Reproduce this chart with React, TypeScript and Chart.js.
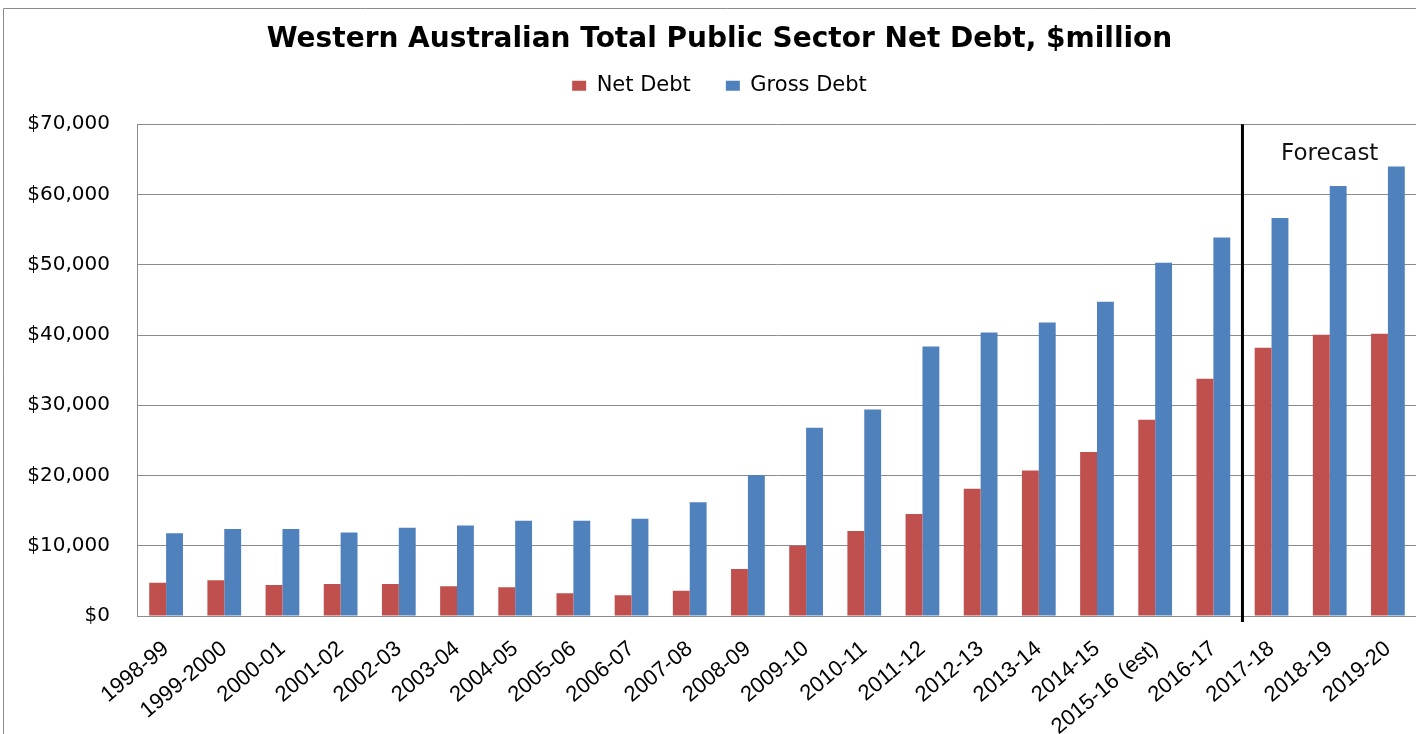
import { useEffect, useRef } from 'react';
import { Chart, registerables } from 'chart.js';

Chart.register(...registerables);

const categories = [
  '1998-99', '1999-2000', '2000-01', '2001-02', '2002-03', '2003-04', '2004-05',
  '2005-06', '2006-07', '2007-08', '2008-09', '2009-10', '2010-11', '2011-12',
  '2012-13', '2013-14', '2014-15', '2015-16 (est)', '2016-17', '2017-18', '2018-19', '2019-20',
];
const netDebt = [
  4740, 5080, 4410, 4550, 4550, 4220, 4080, 3230, 2950, 3600, 6690,
  10000, 12090, 14510, 18110, 20730, 23330, 27930, 33760, 38180, 40030, 40170,
];
const grossDebt = [
  11770, 12380, 12380, 11900, 12570, 12900, 13560, 13560, 13850, 16180, 20060,
  26790, 29400, 38370, 40360, 41780, 44720, 50300, 53870, 56670, 61220, 63980,
];
const yMin = 0;
const yMax = 70000;
const yStep = 10000;
const forecastStartIndex = 19;
const forecastLabel = 'Forecast';
const forecastLabelCategory = 20;
const forecastLabelValue = 65700;

const framePlugin = {
  id: 'frame',
  beforeDraw(chart: any) {
    const { ctx } = chart;
    ctx.save();
    ctx.strokeStyle = '#8c8c8c';
    ctx.lineWidth = 1;
    ctx.beginPath();
    ctx.moveTo(3.5, chart.height + 10);
    ctx.lineTo(3.5, 8.5);
    ctx.lineTo(chart.width + 10, 8.5);
    ctx.stroke();
    ctx.restore();
  },
};

const forecastPlugin = {
  id: 'forecast',
  afterDatasetsDraw(chart: any) {
    const { ctx, chartArea } = chart;
    const x = chart.scales.x;
    const y = chart.scales.y;
    const xl = (x.getPixelForValue(forecastStartIndex - 1) + x.getPixelForValue(forecastStartIndex)) / 2;
    ctx.save();
    ctx.strokeStyle = '#000';
    ctx.lineWidth = 3;
    ctx.beginPath();
    ctx.moveTo(xl, chartArea.top);
    ctx.lineTo(xl, chartArea.bottom + 6);
    ctx.stroke();
    ctx.fillStyle = '#111';
    ctx.font = '23px "DejaVu Sans"';
    ctx.textAlign = 'center';
    ctx.textBaseline = 'middle';
    ctx.fillText(forecastLabel, x.getPixelForValue(forecastLabelCategory), y.getPixelForValue(forecastLabelValue));
    ctx.restore();
  },
};

export default function App() {
  const ref = useRef<HTMLCanvasElement>(null);
  useEffect(() => {
    document.body.style.margin = '0';
    const chart = new Chart(ref.current as HTMLCanvasElement, {
      type: 'bar',
      data: {
        labels: categories,
        datasets: [
          { label: 'Net Debt', data: netDebt, backgroundColor: '#C0504D', borderWidth: 0 },
          { label: 'Gross Debt', data: grossDebt, backgroundColor: '#4F81BD', borderWidth: 0 },
        ],
      },
      options: {
        responsive: false,
        animation: false,
        layout: { padding: { left: 22, right: 33, top: 0, bottom: 0 } },
        datasets: { bar: { barPercentage: 1, categoryPercentage: 0.58 } },
        plugins: {
          title: {
            display: true,
            text: 'Western Australian Total Public Sector Net Debt, $million',
            color: '#000',
            font: { family: '"DejaVu Sans"', size: 28, weight: 'bold', lineHeight: 0.01 },
            padding: { top: 40, bottom: 0 },
          },
          subtitle: {
            display: true,
            text: ' ',
            weight: 500,
            font: { size: 1, lineHeight: 1 },
            padding: { top: 17, bottom: 0 },
          } as any,
          legend: {
            display: true,
            position: 'top',
            labels: {
              boxWidth: 14,
              boxHeight: 10,
              padding: 35,
              color: '#000',
              font: { family: '"DejaVu Sans"', size: 21 },
            },
          },
          tooltip: { enabled: false },
        },
        scales: {
          x: {
            afterFit(scale: any) { scale.height = 118; },
            grid: { display: false },
            border: { display: true, color: '#8c8c8c' },
            ticks: {
              autoSkip: false,
              minRotation: 40,
              maxRotation: 40,
              padding: 12,
              color: '#000',
              font: { family: '"Liberation Sans", Arial, sans-serif', size: 22 },
            },
          },
          y: {
            min: yMin,
            max: yMax,
            afterFit(scale: any) { scale.width = 115; },
            grid: { color: '#8c8c8c', drawTicks: false },
            border: { display: true, color: '#8c8c8c' },
            ticks: {
              stepSize: yStep,
              padding: 27,
              color: '#000',
              font: { family: '"DejaVu Sans"', size: 20 },
              callback: (v: any) => '$' + Number(v).toLocaleString('en-US'),
            },
          },
        },
      },
      plugins: [framePlugin, forecastPlugin],
    });
    return () => chart.destroy();
  }, []);
  return (
    <div style={{ width: 1416, height: 734, overflow: 'hidden', position: 'relative' }}>
      <canvas ref={ref} width={1450} height={734} style={{ display: 'block', width: 1450, height: 734 }} />
    </div>
  );
}
